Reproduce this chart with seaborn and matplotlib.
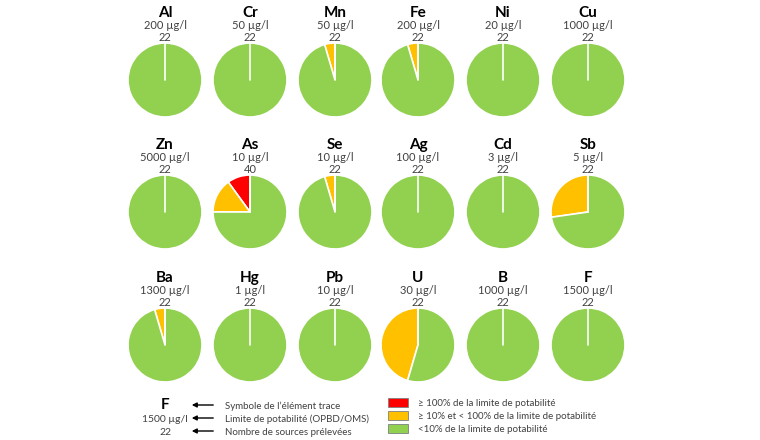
import matplotlib
matplotlib.use("Agg")
import matplotlib.pyplot as plt
import seaborn as sns
from matplotlib.patches import Rectangle, FancyArrowPatch

# data
elements = ["Al", "Cr", "Mn", "Fe", "Ni", "Cu",
            "Zn", "As", "Se", "Ag", "Cd", "Sb",
            "Ba", "Hg", "Pb", "U", "B", "F"]
limits = ["200 µg/l", "50 µg/l", "50 µg/l", "200 µg/l", "20 µg/l", "1000 µg/l",
          "5000 µg/l", "10 µg/l", "10 µg/l", "100 µg/l", "3 µg/l", "5 µg/l",
          "1300 µg/l", "1 µg/l", "10 µg/l", "30 µg/l", "1000 µg/l", "1500 µg/l"]
n_sources = [22, 22, 22, 22, 22, 22,
             22, 40, 22, 22, 22, 22,
             22, 22, 22, 22, 22, 22]
n_red = [0, 0, 0, 0, 0, 0,
         0, 4, 0, 0, 0, 0,
         0, 0, 0, 0, 0, 0]
n_orange = [0, 0, 1, 1, 0, 0,
            0, 6, 1, 0, 0, 6,
            1, 0, 0, 10, 0, 0]

legend_labels = ["≥ 100% de la limite de potabilité",
                 "≥ 10% et < 100% de la limite de potabilité",
                 "<10% de la limite de potabilité"]
key_labels = ["Symbole de l’élément trace",
              "Limite de potabilité (OPBD/OMS)",
              "Nombre de sources prélevées"]

colors = ["#FF0000", "#FFC000", "#92D050"]

sns.set_theme(style="white")
plt.rcParams["font.family"] = ["Lato", "DejaVu Sans"]

W, H = 760, 440
fig = plt.figure(figsize=(W / 100, H / 100), dpi=100)


def fx(x):
    return x / W


def fy(y):
    return 1 - y / H


col_x = [165, 250, 335, 418, 503, 588]
row_y = [80, 212, 345]
radius = 37
text_grey = "#404040"

for i, el in enumerate(elements):
    r, c = divmod(i, 6)
    cx, cy = col_x[c], row_y[r]
    ax = fig.add_axes([fx(cx - radius), fy(cy + radius),
                       2 * radius / W, 2 * radius / H])
    green = n_sources[i] - n_red[i] - n_orange[i]
    ax.pie([n_red[i], n_orange[i], green], colors=colors, startangle=90,
           counterclock=True, radius=1,
           wedgeprops=dict(edgecolor="white", linewidth=1.2))
    # separator at the start angle (also visible on single-colour pies)
    ax.plot([0, 0], [0, 1], color="white", linewidth=1.2)
    ax.set_xlim(-1, 1)
    ax.set_ylim(-1, 1)
    ax.set_aspect("auto")
    ax.axis("off")

    top = cy - radius
    fig.text(fx(cx), fy(top - 2), str(n_sources[i]), ha="center",
             va="baseline", fontsize=8, color=text_grey)
    fig.text(fx(cx), fy(top - 14), limits[i], ha="center",
             va="baseline", fontsize=8, color=text_grey)
    fig.text(fx(cx), fy(top - 26), el, ha="center", va="baseline",
             fontsize=11, fontweight="bold", color="black")

# key at the bottom left
key_x = 165
key_rows = [405, 418, 431]
fig.text(fx(key_x), fy(key_rows[0] + 4), "F", ha="center",
         va="baseline", fontsize=11, fontweight="bold", color="black")
fig.text(fx(key_x), fy(key_rows[1] + 3.5), "1500 µg/l", ha="center",
         va="baseline", fontsize=7.5, color=text_grey)
fig.text(fx(key_x), fy(key_rows[2] + 3.5), "22", ha="center",
         va="baseline", fontsize=7.5, color=text_grey)
for yy, lab in zip(key_rows, key_labels):
    fig.add_artist(FancyArrowPatch(
        (fx(216), fy(yy)), (fx(189), fy(yy)), transform=fig.transFigure,
        arrowstyle="-|>", mutation_scale=7, color="black", linewidth=1))
    fig.text(fx(225), fy(yy + 3.5), lab, ha="left", va="baseline",
             fontsize=7, color=text_grey)

# colour legend
leg_rows = [402, 415, 428]
for yy, col, lab in zip(leg_rows, colors, legend_labels):
    fig.add_artist(Rectangle((fx(388), fy(yy + 4.5)), 20 / W, 9 / H,
                             transform=fig.transFigure, facecolor=col,
                             edgecolor="#7F7F7F", linewidth=0.6))
    fig.text(fx(418), fy(yy + 3.5), lab, ha="left", va="baseline",
             fontsize=7, color=text_grey)

fig.savefig("out.png", dpi=100)
